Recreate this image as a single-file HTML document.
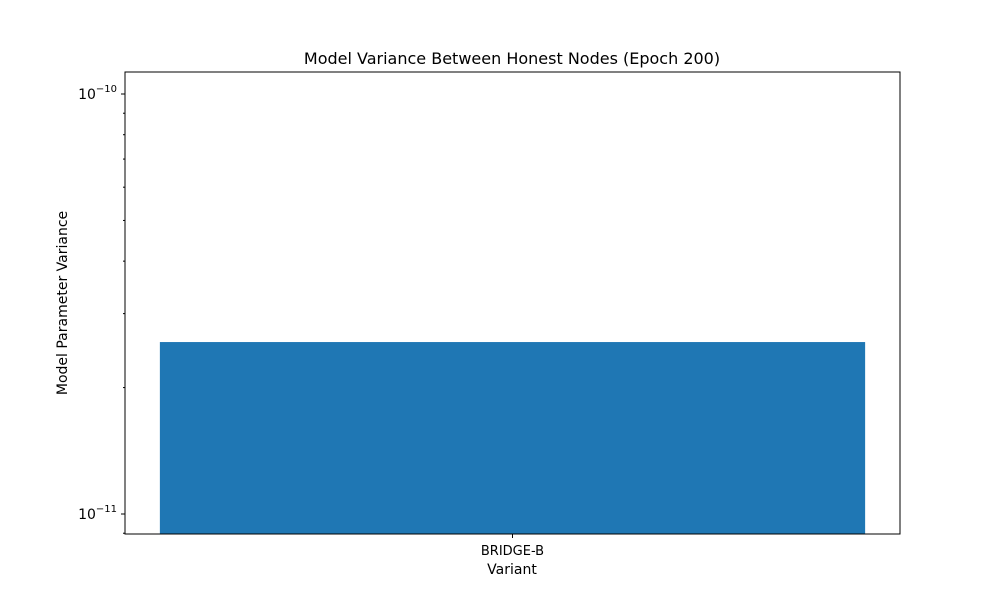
<!DOCTYPE html>
<html><head><meta charset="utf-8"><style>
body{margin:0;background:#fff;font-family:"Liberation Sans","DejaVu Sans",sans-serif;}
svg text{font-family:"DejaVu Sans","Liberation Sans",sans-serif;}
</style></head><body>
<svg id="chart" width="1000" height="600" xmlns="http://www.w3.org/2000/svg">
<rect width="1000" height="600" fill="#fff"/>
<text x="512" y="64" text-anchor="middle" font-size="16">Model Variance Between Honest Nodes (Epoch 200)</text>
<g id="plot"></g>
<text x="512" y="574" text-anchor="middle" font-size="14">Variant</text>
<text transform="translate(67,303) rotate(-90)" text-anchor="middle" font-size="14">Model Parameter Variance</text>
</svg>
<script>
const categories = ["BRIDGE-B"];
const values = [2.567e-11];
const majorTicks = [-11, -10];

const L=125,R=900,T=72,B=534;
const logMin=-11.0476, logMax=-9.9476;
const ns="http://www.w3.org/2000/svg";
const g=document.getElementById('plot');
function y(v){const lv=Math.log10(v);return B-(lv-logMin)/(logMax-logMin)*(B-T);}
const bw=(R-L)/categories.length;
function xc(i){return L+bw*(i+0.5);}
function mk(tag,attrs){const e=document.createElementNS(ns,tag);for(const k in attrs)e.setAttribute(k,attrs[k]);g.appendChild(e);return e;}
categories.forEach((c,i)=>{
  const w=bw*0.91;
  const r=mk('rect',{x:xc(i)-w/2,y:y(values[i]),width:w,height:B-y(values[i]),fill:'#1f77b4'});
  
  
  const t=mk('line',{x1:xc(i),x2:xc(i),y1:B,y2:B+4,stroke:'#000'});
  
  
  const lb=mk('text',{x:xc(i),y:B+21,'text-anchor':'middle','font-size':13});
  lb.textContent=c;
  
  
});
for(let d=-12;d<=-10;d++){for(let m=1;m<10;m++){
  const v=m*Math.pow(10,d);const lv=Math.log10(v);
  if(lv<logMin||lv>logMax)continue;
  const yy=y(v);const major=m===1;
  const t=mk('line',{x1:L-(major?4:2),x2:L,y1:yy,y2:yy,stroke:'#000'});
  
  
}}
majorTicks.forEach(e=>{
  const yy=y(Math.pow(10,e));
  const t=mk('text',{x:L-8,y:yy+5,'text-anchor':'end','font-size':14});
  t.innerHTML='10<tspan dy="-7" font-size="10">\u2212'+Math.abs(e)+'</tspan>';
  
  
});
const f=mk('rect',{x:L,y:T,width:R-L,height:B-T,fill:'none',stroke:'#000','stroke-width':1});


</script>
</body></html>
